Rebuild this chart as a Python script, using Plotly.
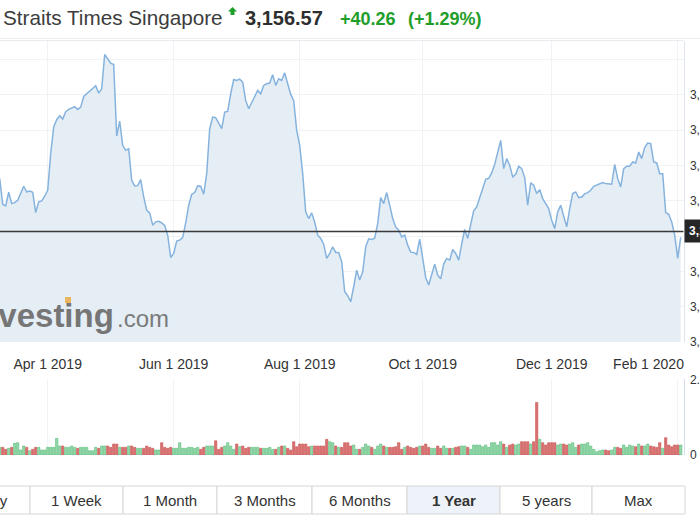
import pandas as pd
import numpy as np
import plotly.graph_objects as go

# ---------------- data ----------------
holidays = ["2019-04-19", "2019-05-01", "2019-05-20", "2019-06-05", "2019-08-09",
            "2019-08-12", "2019-10-28", "2019-12-25", "2020-01-01", "2020-01-27"]
days = pd.bdate_range("2019-03-08", "2020-02-04")
days = days[~days.isin(pd.to_datetime(holidays))]
dates = [d.strftime("%Y-%m-%d") for d in days]

close = [
    3231.3, 3195.1, 3192.7, 3212.0, 3196.0, 3197.4, 3200.7, 3211.1, 3220.5, 3212.5, 3213.9, 3212.0, 3183.3, 3198.4, 3199.8, 3206.4,
    3214.9, 3266.7, 3304.4, 3314.7, 3320.4, 3315.7, 3326.0, 3329.3, 3331.2, 3333.1,
    3329.3, 3332.6, 3347.7, 3351.5, 3356.2, 3359.5, 3362.8, 3352.4, 3358.5, 3407.1,
    3400.9, 3394.8, 3392.9, 3291.7, 3312.8, 3278.5, 3271.4, 3273.7, 3229.0, 3221.0,
    3221.4, 3229.9, 3205.4, 3186.6, 3182.8, 3165.4, 3170.1, 3171.0, 3168.7, 3164.9,
    3151.3, 3119.7, 3125.4, 3142.8, 3144.2, 3148.0, 3168.7, 3193.7, 3209.2, 3211.6,
    3221.0, 3220.5, 3209.2, 3238.4, 3302.0, 3318.5, 3317.5, 3309.1, 3302.0, 3325.6,
    3326.5, 3351.5, 3371.7, 3370.3, 3372.2, 3368.0, 3342.1, 3330.3, 3338.3, 3347.7,
    3356.2, 3351.5, 3363.3, 3365.6, 3366.6, 3378.3, 3363.3, 3372.7, 3370.3, 3381.1,
    3364.7, 3350.5, 3342.1, 3299.6, 3278.5, 3238.4, 3184.2, 3174.8, 3182.8, 3169.6,
    3151.3, 3146.6, 3138.5, 3118.3, 3125.4, 3134.8, 3126.8, 3126.8, 3113.6, 3071.2,
    3065.5, 3057.0, 3078.2, 3101.8, 3087.7, 3099.4, 3134.8, 3146.1, 3145.1, 3147.0,
    3167.7, 3204.5, 3196.0, 3211.6, 3193.7, 3174.8, 3163.0, 3158.3, 3148.9, 3151.3,
    3137.1, 3127.2, 3126.8, 3123.9, 3145.6, 3115.9, 3091.4, 3080.6, 3097.1, 3110.3,
    3094.7, 3089.5, 3110.3, 3118.3, 3115.9, 3131.0, 3125.4, 3115.9, 3138.5, 3159.3,
    3146.6, 3168.7, 3185.6, 3191.3, 3204.5, 3220.5, 3230.4, 3231.8, 3239.4, 3251.6,
    3269.0, 3285.5, 3245.5, 3259.6, 3250.2, 3233.7, 3237.5, 3248.8, 3245.5, 3232.8,
    3193.7, 3225.2, 3221.9, 3210.2, 3215.8, 3203.1, 3196.0, 3188.9, 3172.5, 3160.7,
    3184.2, 3193.7, 3178.1, 3163.0, 3188.9, 3210.2, 3212.5, 3204.5, 3205.4, 3209.7,
    3211.6, 3214.9, 3220.5, 3221.9, 3223.3, 3225.7, 3224.3, 3223.3, 3223.3, 3251.6,
    3231.3, 3219.6, 3245.5, 3248.8, 3248.8, 3254.9, 3253.5, 3269.0, 3259.6, 3275.2,
    3281.8, 3280.8, 3254.9, 3253.5, 3238.4, 3238.4, 3183.3, 3180.9, 3170.1, 3151.3,
    3118.3, 3148.0,
]

volume_m = [
    202, 202, 150, 176, 202, 308, 326, 132, 238, 202, 114, 150, 202, 202, 132, 132,
    202, 202, 202, 440, 238, 238, 202, 202, 238, 202,
    176, 202, 202, 202, 114, 114, 202, 176, 238, 238,
    238, 202, 290, 290, 202, 202, 202, 238, 238, 202,
    176, 176, 176, 238, 202, 176, 132, 132, 326, 202,
    176, 202, 176, 176, 326, 176, 176, 202, 202, 176,
    202, 150, 202, 238, 238, 238, 378, 150, 202, 238,
    326, 238, 150, 290, 220, 238, 176, 202, 202, 202,
    202, 176, 176, 176, 202, 150, 150, 202, 238, 238,
    176, 132, 352, 220, 290, 290, 290, 220, 238, 238,
    238, 238, 238, 414, 352, 326, 238, 202, 202, 326,
    326,
    238, 264, 150, 150, 202, 290, 238, 202, 150, 238,
    290, 238, 202, 202, 202, 220, 326, 150, 202, 238,
    202, 176, 202, 238, 238, 290, 202, 176, 176, 238,
    176, 238, 176, 176, 176, 202, 220, 238, 238, 202,
    150, 264, 264, 264, 220, 264, 202, 326, 326, 264,
    352, 290, 202, 264, 290, 264, 290, 352, 352, 352,
    290, 352, 1390, 414, 326, 264, 326, 326, 326, 264,
    290, 290, 264, 290, 326, 202, 264, 290, 290, 326,
    238, 150, 88, 114, 132, 132, 114, 132, 202, 202,
    176, 264, 202, 264, 238, 220, 290, 238, 238, 290,
    238, 220, 202, 326, 176, 458, 264, 220, 264, 264, 264,
]

last_price = 3156.57
change = 40.26
change_pct = 1.29

tick_dates = ["2019-04-01", "2019-06-03", "2019-08-01", "2019-10-01", "2019-12-02", "2020-02-03"]
tick_labels = ["Apr 1 2019", "Jun 1 2019", "Aug 1 2019", "Oct 1 2019", "Dec 1 2019",
               "Feb 1 2020" + "&nbsp;" * 15]
price_ticks = [3000, 3050, 3100, 3150, 3200, 3250, 3300, 3350, 3400]
price_tick_text = [f"{v:,}" if v < 3400 else "" for v in price_ticks]
vol_ticks = [0, 2000]
vol_tick_text = ["0", "2.00B"]

buttons = ["1 Day", "1 Week", "1 Month", "3 Months", "6 Months", "1 Year", "5 years", "Max"]
active_button = "1 Year"

assert len(dates) == len(close) == len(volume_m)

# ---------------- geometry helpers ----------------
W, H = 700, 525
def px(x):
    return x / W
def py(y):
    return 1 - y / H

FONT = "Liberation Sans, Arial, sans-serif"
GREEN = "#1f9e2a"
TXT = "#333333"

prev = [close[0]] + close[:-1]
up = [c >= p for c, p in zip(close, prev)]
bar_fill = ["#93d5aa" if u else "#d86f6f" for u in up]
bar_line = ["#5fbf80" if u else "#cc5c5c" for u in up]

idx_apr = dates.index("2019-04-01")
x_left = idx_apr - 47.7 / 3.0
x_right = idx_apr + (683.5 - 47.7) / 3.0

fig = go.Figure()
fig.add_trace(go.Scatter(
    x=dates, y=close, mode="lines", xaxis="x", yaxis="y",
    line=dict(color="#86b3de", width=1.5),
    fill="tozeroy", fillcolor="#e5eef5", hoverinfo="skip", showlegend=False,
))
fig.add_trace(go.Bar(
    x=dates, y=volume_m, xaxis="x2", yaxis="y2",
    marker=dict(color=bar_fill, line=dict(color=bar_line, width=0.6)),
    width=0.78, showlegend=False, hoverinfo="skip",
))

grid = "#f0f2f5"
fig.update_layout(
    width=W, height=H,
    margin=dict(l=0, r=0, t=0, b=0, autoexpand=False),
    paper_bgcolor="white", plot_bgcolor="white",
    font=dict(family=FONT, color=TXT),
    showlegend=False,
    bargap=0.2,
    xaxis=dict(
        domain=[0, px(683.5)], anchor="y", type="category",
        categoryorder="array", categoryarray=dates,
        range=[x_left, x_right], automargin=False,
        tickvals=tick_dates, ticktext=tick_labels,
        tickfont=dict(size=14, color=TXT, family=FONT),
        showgrid=True, gridcolor=grid, gridwidth=1,
        ticks="", ticklabelstandoff=12,
        zeroline=False, showline=False, fixedrange=True,
    ),
    yaxis=dict(
        domain=[py(342), py(40.5)], anchor="x", side="right",
        range=[3000, 3426.9], automargin=False,
        tickvals=price_ticks, ticktext=price_tick_text,
        tickfont=dict(size=12, color=TXT, family=FONT),
        showgrid=True, gridcolor=grid, gridwidth=1,
        ticks="", ticklabelstandoff=3,
        zeroline=False, showline=True, linecolor="#dde4ec", linewidth=1,
    ),
    xaxis2=dict(
        domain=[0, px(683.5)], anchor="y2", type="category",
        categoryorder="array", categoryarray=dates,
        range=[x_left, x_right], automargin=False,
        tickvals=tick_dates, showticklabels=False,
        showgrid=True, gridcolor=grid, gridwidth=1,
        ticks="", zeroline=False, showline=False,
    ),
    yaxis2=dict(
        domain=[py(455), py(379.3)], anchor="x2", side="right",
        range=[0, 2000], automargin=False,
        tickvals=vol_ticks, ticktext=vol_tick_text,
        tickfont=dict(size=12, color=TXT, family=FONT),
        showgrid=True, gridcolor=grid,
        ticks="", ticklabelstandoff=3,
        zeroline=False, showline=True, linecolor="#d3deea", linewidth=1,
    ),
)

shapes = []
annotations = []

# header separator and chart top border
shapes.append(dict(type="line", xref="paper", yref="paper", x0=0, x1=1,
                   y0=py(38.5), y1=py(38.5), line=dict(color="#ececec", width=1)))
shapes.append(dict(type="line", xref="paper", yref="paper", x0=0, x1=px(683.5),
                   y0=py(40.5), y1=py(40.5), line=dict(color="#e6ebf0", width=1)))

# current price line
shapes.append(dict(type="line", xref="x domain", yref="y", x0=0, x1=1,
                   y0=last_price, y1=last_price, line=dict(color="#3a3a3a", width=1.5)))

# header texts
annotations.append(dict(xref="paper", yref="paper", x=px(0.5), y=py(17.5), xanchor="left", yanchor="middle",
                        text="Straits Times Singapore", showarrow=False,
                        font=dict(size=20.7, color="#3c3c3c", family=FONT)))
annotations.append(dict(xref="paper", yref="paper", x=px(243), y=py(18), xanchor="left", yanchor="middle",
                        text=f"<b>{last_price:,.2f}</b>", showarrow=False,
                        font=dict(size=20, color="#2e2e2e", family=FONT)))
annotations.append(dict(xref="paper", yref="paper", x=px(338), y=py(18.5), xanchor="left", yanchor="middle",
                        text=f"<b>+{change:.2f}</b>", showarrow=False,
                        font=dict(size=18, color=GREEN, family=FONT)))
annotations.append(dict(xref="paper", yref="paper", x=px(406), y=py(18.5), xanchor="left", yanchor="middle",
                        text=f"<b>(+{change_pct:.2f}%)</b>", showarrow=False,
                        font=dict(size=18, color=GREEN, family=FONT)))
# green up arrow
ax0, ax1, ay_top, ay_mid, ay_bot = 228, 237, 7, 11.5, 15
path = (f"M {px(ax0)},{py(ay_mid)} L {px((ax0+ax1)/2)},{py(ay_top)} L {px(ax1)},{py(ay_mid)} "
        f"L {px(234.5)},{py(ay_mid)} L {px(234.5)},{py(ay_bot)} L {px(230.5)},{py(ay_bot)} "
        f"L {px(230.5)},{py(ay_mid)} Z")
shapes.append(dict(type="path", xref="paper", yref="paper", path=path,
                   fillcolor=GREEN, line=dict(width=0)))

# price box on right axis
annotations.append(dict(xref="paper", yref="y", x=px(684), y=last_price, xanchor="left", yanchor="middle",
                        text=f"<b>{last_price:,.2f}</b>", showarrow=False,
                        font=dict(size=12, color="white", family=FONT),
                        bgcolor="#262626", borderpad=4))

# watermark
annotations.append(dict(xref="paper", yref="paper", x=px(116), y=py(315), xanchor="right", yanchor="middle",
                        text="<b>Investing</b>", showarrow=False,
                        font=dict(size=33, color="#767676", family=FONT)))
annotations.append(dict(xref="paper", yref="paper", x=px(115), y=py(318), xanchor="left", yanchor="middle",
                        text=".com", showarrow=False,
                        font=dict(size=24, color="#7a7a7a", family=FONT)))
shapes.append(dict(type="rect", xref="paper", yref="paper", x0=px(65), x1=px(71),
                   y0=py(303), y1=py(297), fillcolor="#e9b560", line=dict(width=0)))

# range buttons
edges = [-55, 30, 123, 217, 312, 407, 500, 592, 685]
by0, by1 = 486, 514
for i, lab in enumerate(buttons):
    x0, x1 = edges[i], edges[i + 1]
    active = lab == active_button
    shapes.append(dict(type="rect", xref="paper", yref="paper",
                       x0=px(x0), x1=px(x1), y0=py(by1), y1=py(by0),
                       fillcolor="#edf3f9" if active else "white",
                       line=dict(color="#d6d6d6", width=1)))
    annotations.append(dict(xref="paper", yref="paper", x=px((x0 + x1) / 2), y=py((by0 + by1) / 2),
                            xanchor="center", yanchor="middle", showarrow=False,
                            text=f"<b>{lab}</b>" if active else lab,
                            font=dict(size=15, color="#333333", family=FONT)))

fig.update_layout(shapes=shapes, annotations=annotations)
fig.write_html("out.html")
